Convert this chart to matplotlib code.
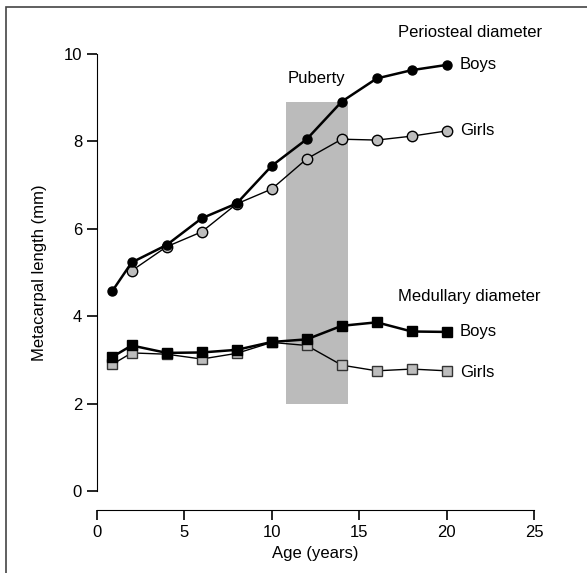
import matplotlib.pyplot as plt
from matplotlib.patches import Rectangle

plt.rcParams['font.family'] = ['Liberation Sans', 'DejaVu Sans']
plt.rcParams['font.size'] = 12

# ages (years)
age = [0.9, 2, 4, 6, 8, 10, 12, 14, 16, 18, 20]

# periosteal diameter (mm)
perio_boys = [4.58, 5.23, 5.63, 6.24, 6.58, 7.44, 8.05, 8.91, 9.44, 9.63, 9.75]
perio_girls_age = [2, 4, 6, 8, 10, 12, 14, 16, 18, 20]
perio_girls = [5.04, 5.59, 5.93, 6.57, 6.91, 7.60, 8.05, 8.03, 8.12, 8.24]

# medullary diameter (mm)
medul_boys = [3.07, 3.33, 3.16, 3.17, 3.23, 3.41, 3.47, 3.78, 3.86, 3.65, 3.64]
medul_girls = [2.90, 3.16, 3.13, 3.02, 3.15, 3.40, 3.33, 2.88, 2.75, 2.79, 2.75]

# puberty band
pub_x = (10.8, 14.35)
pub_y = (2.0, 8.9)

fig = plt.figure(figsize=(5.87, 5.73), dpi=100)
ax = fig.add_axes([0.1647, 0.1431, 0.7455, 0.7627])

# outer frame (left + top edges only visible)
fig.patches.append(Rectangle((6 / 587, -0.1), 1.2, 1 - 7 / 573 + 0.1,
                             transform=fig.transFigure, fill=False,
                             edgecolor='#444444', linewidth=1.2))

ax.add_patch(Rectangle((pub_x[0], pub_y[0]), pub_x[1] - pub_x[0], pub_y[1] - pub_y[0],
                       facecolor='#bbbbbb', edgecolor='none', zorder=1))

grey = '#bdbdbd'
ax.plot(perio_girls_age, perio_girls, '-o', color='black', lw=1.0, ms=7.5,
        mfc=grey, mec='black', mew=1.0, zorder=3)
ax.plot(age, perio_boys, '-o', color='black', lw=1.8, ms=6.5,
        mfc='black', mec='black', zorder=4)
ax.plot(age, medul_girls, '-s', color='black', lw=1.0, ms=6.5,
        mfc=grey, mec='#333333', mew=1.0, zorder=3)
ax.plot(age, medul_boys, '-s', color='black', lw=1.8, ms=7.3,
        mfc='black', mec='black', zorder=4)

ax.text(17.2, 10.5, 'Periosteal diameter', va='center', ha='left', clip_on=False)
ax.text(20.75, 9.77, 'Boys', va='center', ha='left')
ax.text(20.75, 8.24, 'Girls', va='center', ha='left')
ax.text(12.56, 9.45, 'Puberty', va='center', ha='center')
ax.text(17.2, 4.46, 'Medullary diameter', va='center', ha='left')
ax.text(20.75, 3.64, 'Boys', va='center', ha='left')
ax.text(20.75, 2.72, 'Girls', va='center', ha='left')

ax.set_xlim(0, 25)
ax.set_ylim(0, 10)
ax.set_xticks([0, 5, 10, 15, 20, 25])
ax.set_yticks([0, 2, 4, 6, 8, 10])
ax.spines['top'].set_visible(False)
ax.spines['right'].set_visible(False)
ax.spines['bottom'].set_position(('outward', 14))
ax.tick_params(direction='out', length=7, width=1.2, labelsize=12)
ax.set_xlabel('Age (years)', fontsize=12, labelpad=4)
ax.set_ylabel('Metacarpal length (mm)', fontsize=12, labelpad=12)

fig.savefig('out.png', dpi=100)
